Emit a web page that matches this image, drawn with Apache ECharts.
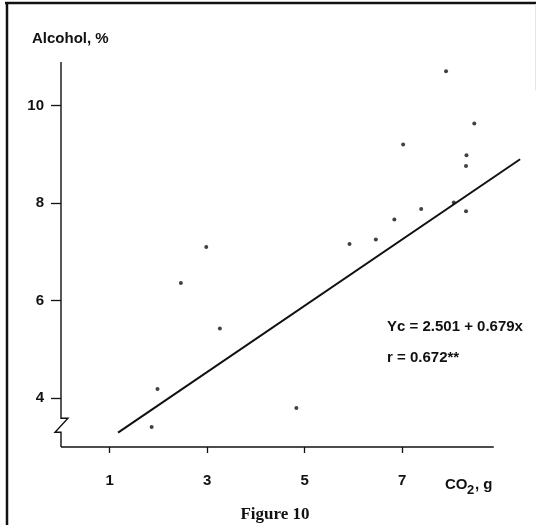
<!DOCTYPE html>
<html>
<head>
<meta charset="utf-8">
<script src="https://cdn.jsdelivr.net/npm/echarts@6/dist/echarts.min.js"></script>
<style>
  html, body { margin: 0; padding: 0; background: #fff; }
  #chart { width: 536px; height: 525px; }
</style>
</head>
<body>
<div id="chart"></div>
<script>
// CO2 evolved (g) and alcohol content (%) of each sample
const co2     = [1.86, 1.98, 2.46, 2.98, 3.26, 4.83, 5.92, 6.46, 6.84, 7.02, 7.39, 7.90, 8.06, 8.31, 8.31, 8.32, 8.48];
const alcohol = [3.41, 4.19, 6.36, 7.10, 5.43, 3.80, 7.16, 7.25, 7.66, 9.20, 7.88, 10.70, 8.01, 7.83, 8.76, 8.98, 9.63];

// fitted regression Yc = a + b x, drawn across this CO2 span
const intercept = 2.501;
const slope = 0.679;
const fitSpan = [1.17, 9.42];

const xTicks = [1, 3, 5, 7];
const yTicks = [4, 6, 8, 10];
const xRange = [0, 9.5];     // scale extent (the fit line runs past the axis end)
const xAxisEnd = 8.88;       // where the drawn x axis stops
const yRange = [3, 10.89];

const yTitle = 'Alcohol, %';
const eqText = 'Yc = 2.501 + 0.679x';
const rText = 'r = 0.672**';
const caption = 'Figure 10';

const ink = '#111';
const sans = '"Liberation Sans", Arial, sans-serif';
const serif = '"Liberation Serif", "Times New Roman", serif';

const points = co2.map((x, i) => [x, alcohol[i]]);
const fitLine = fitSpan.map(x => [x, intercept + slope * x]);

const chart = echarts.init(document.getElementById('chart'), null, { renderer: 'canvas' });

chart.setOption({
  animation: false,
  backgroundColor: '#fff',
  grid: { left: 61, right: 12, top: 62, bottom: 78 },
  xAxis: {
    type: 'value',
    min: xRange[0], max: xRange[1],
    splitLine: { show: false },
    axisLine: { show: false },
    axisTick: { show: true, customValues: xTicks, length: 6, lineStyle: { color: ink, width: 1.3 } },
    axisLabel: { customValues: xTicks, margin: 26, color: ink, fontFamily: sans, fontWeight: 'bold', fontSize: 15 }
  },
  yAxis: {
    type: 'value',
    min: yRange[0], max: yRange[1],
    splitLine: { show: false },
    axisLine: { show: false },
    axisTick: { show: true, customValues: yTicks, length: 10, lineStyle: { color: ink, width: 1.3 } },
    axisLabel: { customValues: yTicks, margin: 17, color: ink, fontFamily: sans, fontWeight: 'bold', fontSize: 15 }
  },
  series: [
    {
      type: 'scatter',
      data: points,
      symbol: 'circle',
      symbolSize: 4,
      itemStyle: { color: ink },
      z: 3
    },
    {
      type: 'line',
      data: fitLine,
      symbol: 'none',
      lineStyle: { color: ink, width: 2 },
      z: 2
    }
  ]
});

// axes drawn by hand: the y axis carries a scale-break zigzag near its foot,
// and the x axis stops short of the plotting area's right edge
const toPx = v => chart.convertToPixel({ gridIndex: 0 }, v);
const axisTop = toPx([xRange[0], yRange[1]]);
const axisFoot = toPx([xRange[0], yRange[0]]);
const axisBreak = toPx([xRange[0], 3.59]);
const xEnd = toPx([xAxisEnd, yRange[0]]);
const ax = axisTop[0];
const yAxisPath = [
  [ax, axisTop[1]], [ax, axisBreak[1]], [ax + 7, axisBreak[1]],
  [ax - 6, axisBreak[1] + 14], [ax, axisBreak[1] + 14], [ax, axisFoot[1]]
];

chart.setOption({
  graphic: [
    { type: 'polyline', shape: { points: yAxisPath }, style: { stroke: ink, lineWidth: 1.4, fill: null } },
    { type: 'line', shape: { x1: ax, y1: axisFoot[1], x2: xEnd[0], y2: xEnd[1] }, style: { stroke: ink, lineWidth: 1.4 } },
    // frame
    { type: 'line', shape: { x1: 5, y1: 3, x2: 536, y2: 3 }, style: { stroke: ink, lineWidth: 2.5 } },
    { type: 'line', shape: { x1: 7, y1: 2, x2: 7, y2: 525 }, style: { stroke: ink, lineWidth: 2.5 } },
    { type: 'line', shape: { x1: 535.5, y1: 4, x2: 535.5, y2: 90 }, style: { stroke: '#e6e6e6', lineWidth: 1 } },
    // titles and annotations
    { type: 'text', style: { x: 32, y: 39, text: yTitle, fill: ink, font: 'bold 15px ' + sans, verticalAlign: 'middle' } },
    { type: 'text', style: { x: 387, y: 327, text: eqText, fill: ink, font: 'bold 15px ' + sans, verticalAlign: 'middle' } },
    { type: 'text', style: { x: 387, y: 358, text: rText, fill: ink, font: 'bold 15px ' + sans, verticalAlign: 'middle' } },
    { type: 'text', style: { x: 445, y: 485, text: 'CO', fill: ink, font: 'bold 15px ' + sans, verticalAlign: 'middle' } },
    { type: 'text', style: { x: 467, y: 490, text: '2', fill: ink, font: 'bold 13px ' + sans, verticalAlign: 'middle' } },
    { type: 'text', style: { x: 475, y: 485, text: ', g', fill: ink, font: 'bold 15px ' + sans, verticalAlign: 'middle' } },
    { type: 'text', style: { x: 275, y: 515, text: caption, fill: ink, font: 'bold 17px ' + serif, align: 'center', verticalAlign: 'middle' } }
  ]
});
</script>
</body>
</html>
